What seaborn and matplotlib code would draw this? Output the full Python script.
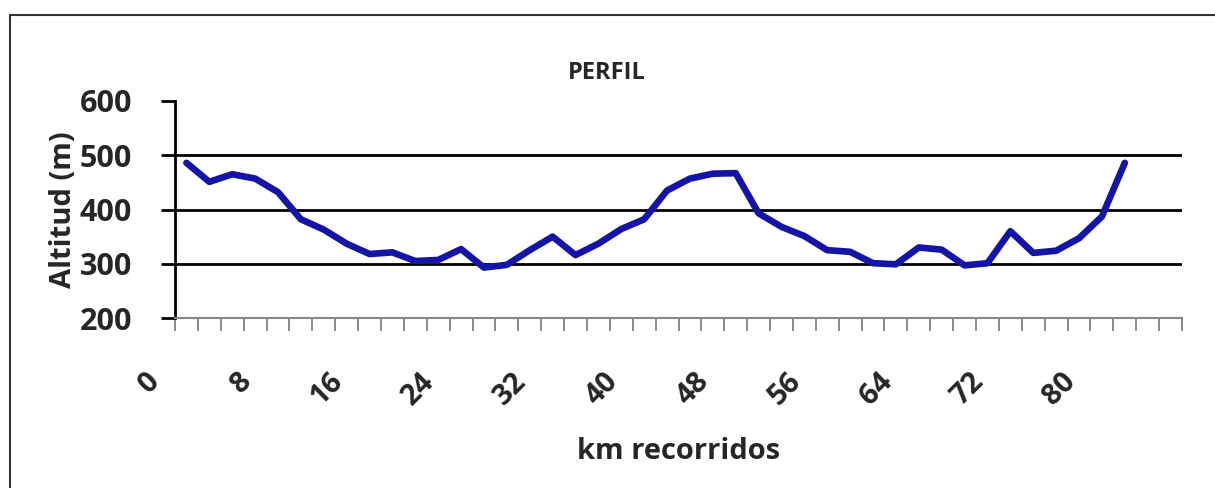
import numpy as np
import pandas as pd
import seaborn as sns
from matplotlib import pyplot as plt
from matplotlib.lines import Line2D
from matplotlib.transforms import ScaledTranslation

sns.set_style("white")
plt.rcParams['font.family'] = ['Open Sans', 'DejaVu Sans']
plt.rcParams['font.weight'] = 'bold'

# datos del perfil
km = list(range(0, 84, 2))
altitud = [486, 451, 465, 457, 432, 382, 363, 337, 318, 321,
           305, 307, 327, 293, 298, 325, 350, 316, 337, 364,
           382, 435, 457, 466, 467, 393, 368, 351, 325, 322,
           301, 299, 330, 326, 297, 301, 360, 320, 324, 347,
           387, 486]
y_ticks = [200, 300, 400, 500, 600]
x_labels = list(range(0, 84, 8))

df = pd.DataFrame({'km': km, 'Altitud': altitud})

fig = plt.figure(figsize=(12.15, 4.88), dpi=100)
ax = fig.add_axes([175 / 1215, 1 - 318 / 488, 1007 / 1215, 217 / 488])

sns.lineplot(data=df, x='km', y='Altitud', ax=ax, color='#1414a8',
             linewidth=4.8, solid_joinstyle='round', solid_capstyle='round')

# ejes
ax.set_ylim(200, 600)
ax.set_xlim(-1, 87)
ax.set_yticks(y_ticks)
ax.set_yticklabels([str(v) for v in y_ticks], fontsize=22, fontweight='bold')
for v in y_ticks[1:-1]:
    ax.axhline(v, color='black', linewidth=2, zorder=1)

ax.set_xticks(x_labels)
ax.set_xticks(np.arange(-1, 88, 2), minor=True)
ax.tick_params(axis='x', which='major', length=0, pad=0)
ax.tick_params(axis='x', which='minor', length=9, width=1.2, color='#777777',
               direction='out', bottom=True)
ax.tick_params(axis='y', which='major', length=10, width=2, color='black',
               direction='out', left=True, pad=21)
ax.set_xticklabels([str(v) for v in x_labels], rotation=45, ha='right',
                   va='top', rotation_mode='anchor', fontsize=21, fontweight='bold')
offset = ScaledTranslation(-0.41, -0.49, fig.dpi_scale_trans)
for lab in ax.get_xticklabels():
    lab.set_transform(lab.get_transform() + offset)

for s in ['top', 'right']:
    ax.spines[s].set_visible(False)
ax.spines['left'].set_color('black')
ax.spines['left'].set_linewidth(2)
ax.spines['bottom'].set_color('#888888')
ax.spines['bottom'].set_linewidth(1.5)

ax.set_xlabel('km recorridos', fontsize=21, fontweight='bold')
ax.xaxis.set_label_coords(0.5, -0.548)
ax.set_ylabel('Altitud (m)', fontsize=21, fontweight='bold')
ax.yaxis.set_label_coords(-0.0963, 0.5)
fig.text(607 / 1215, 1 - 73 / 488, 'PERFIL', ha='center', va='center',
         fontsize=17, fontweight='bold')

# marco del grafico
fig.add_artist(Line2D([10 / 1215, 10 / 1215], [0, 1 - 15 / 488],
                      transform=fig.transFigure, color='#333333', linewidth=1.5))
fig.add_artist(Line2D([10 / 1215, 1], [1 - 15 / 488, 1 - 15 / 488],
                      transform=fig.transFigure, color='#333333', linewidth=1.5))

plt.savefig('out.png', dpi=100)
